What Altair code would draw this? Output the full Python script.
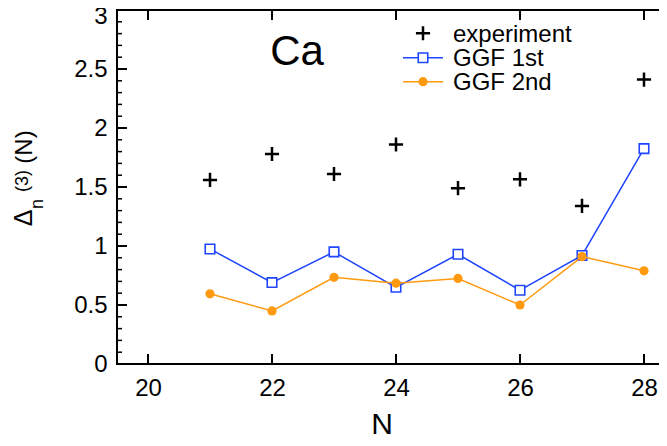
import altair as alt
import pandas as pd

# ---- data ----
N = [21, 22, 23, 24, 25, 26, 27, 28]
experiment = [1.56, 1.78, 1.61, 1.86, 1.49, 1.565, 1.34, 2.41]
ggf_1st = [0.975, 0.69, 0.95, 0.65, 0.93, 0.625, 0.92, 1.825]
ggf_2nd = [0.595, 0.45, 0.735, 0.685, 0.725, 0.50, 0.91, 0.79]

x_ticks = [20, 22, 24, 26, 28]
y_major = [0, 0.5, 1, 1.5, 2, 2.5, 3]
y_minor = [0.1, 0.2, 0.3, 0.4, 0.6, 0.7, 0.8, 0.9, 1.1, 1.2, 1.3, 1.4,
           1.6, 1.7, 1.8, 1.9, 2.1, 2.2, 2.3, 2.4, 2.6, 2.7, 2.8, 2.9]
legend_labels = ["experiment", "GGF 1st", "GGF 2nd"]
element = "Ca"
x_title = "N"
y_title_parts = ["\u0394", "n", "(3)", "(N)"]

# ---- style ----
W, H = 542, 354
FONT = "Liberation Sans"
BLUE = "#1f45ff"
ORANGE = "#ff9a10"
CROSS = "M -1 0 L 1 0 M 0 -1 L 0 1"

df = pd.DataFrame({"N": N, "experiment": experiment, "ggf1": ggf_1st, "ggf2": ggf_2nd})

xs = alt.Scale(domain=[19.5, 28.242], nice=False, zero=False)
ys = alt.Scale(domain=[0, 3], nice=False, zero=False)

x_axis = alt.Axis(values=x_ticks, domain=False, ticks=False, tickSize=0, grid=False,
                  labelFontSize=24, labelFont=FONT, labelColor="black",
                  labelPadding=12, labelFlush=False, title=None)
y_axis = alt.Axis(values=y_major, format="~g", domain=False, ticks=False, tickSize=0,
                  grid=False, labelFontSize=24, labelFont=FONT, labelColor="black",
                  labelPadding=10, labelFlush=False, title=None,
                  labelOffset={"condition": {"test": "datum.value >= 3", "value": 6},
                               "value": 0})


def X(field):
    return alt.X(f"{field}:Q", scale=xs, axis=x_axis)


def Y(field):
    return alt.Y(f"{field}:Q", scale=ys, axis=y_axis)


base = alt.Chart(df)

blue_line = base.mark_line(color=BLUE, strokeWidth=1.5).encode(x=X("N"), y=Y("ggf1"))
blue_pts = base.mark_point(shape="square", filled=True, fill="white", stroke=BLUE,
                           strokeWidth=1.6, size=90, opacity=1).encode(x=X("N"), y=Y("ggf1"))
orange_line = base.mark_line(color=ORANGE, strokeWidth=1.5).encode(x=X("N"), y=Y("ggf2"))
orange_pts = base.mark_circle(color=ORANGE, size=85, opacity=1).encode(x=X("N"), y=Y("ggf2"))
crosses = base.mark_point(shape=CROSS, filled=False, stroke="black", strokeWidth=2.5,
                          size=200, opacity=1).encode(x=X("N"), y=Y("experiment"))

# ---- frame and inward ticks ----
one = pd.DataFrame({"k": [0]})
frame_left = alt.Chart(one).mark_rule(color="black", strokeWidth=2, strokeCap="square").encode(
    x=alt.value(0), y=alt.value(0), y2=alt.value(H))
frame_bottom = alt.Chart(one).mark_rule(color="black", strokeWidth=2, strokeCap="square").encode(
    x=alt.value(0), x2=alt.value(W + 2), y=alt.value(H))
frame_top = alt.Chart(one).mark_rule(color="black", strokeWidth=2, strokeCap="square").encode(
    x=alt.value(0), x2=alt.value(W + 2), y=alt.value(0))

xt = pd.DataFrame({"t": x_ticks})
xticks_bottom = alt.Chart(xt).mark_rule(color="black", strokeWidth=2).encode(
    x=X("t"), y=alt.value(H), y2=alt.value(H - 10))
xticks_top = alt.Chart(xt).mark_rule(color="black", strokeWidth=2).encode(
    x=X("t"), y=alt.value(0), y2=alt.value(10))

ymj = pd.DataFrame({"t": y_major})
ymn = pd.DataFrame({"t": y_minor})
yticks_major = alt.Chart(ymj).mark_rule(color="black", strokeWidth=2).encode(
    y=Y("t"), x=alt.value(0), x2=alt.value(10))
yticks_minor = alt.Chart(ymn).mark_rule(color="black", strokeWidth=1.5).encode(
    y=Y("t"), x=alt.value(0), x2=alt.value(5))

# ---- annotations ----
ca_text = alt.Chart(pd.DataFrame({"label": [element]})).mark_text(
    font=FONT, fontSize=42, align="center", baseline="alphabetic", color="black").encode(
    text="label:N", x=alt.value(180), y=alt.value(55))

xlab = alt.Chart(pd.DataFrame({"label": [x_title]})).mark_text(
    font=FONT, fontSize=30, align="center", baseline="alphabetic", color="black").encode(
    text="label:N", x=alt.value(265), y=alt.value(424))


def ypart(i, x, y, size):
    return alt.Chart(pd.DataFrame({"label": [y_title_parts[i]]})).mark_text(
        font=FONT, fontSize=size, align="center", baseline="middle", angle=270,
        color="black").encode(text="label:N", x=alt.value(x), y=alt.value(y))


ylab = [
    ypart(0, -93, 208, 25),
    ypart(1, -79, 194, 18),
    ypart(2, -94, 171, 18),
    ypart(3, -92, 137, 24),
]

# ---- legend ----
leg_sym_y = [23.3, 47.7, 71.7]
leg_txt_y = [32, 56, 80]
LX_SYM, LX0, LX1, LX_TXT = 306, 286, 326, 336

legend_layers = []
for i, lab in enumerate(legend_labels):
    d = pd.DataFrame({"label": [lab]})
    c = alt.Chart(d)
    if i == 0:
        legend_layers.append(c.mark_point(shape=CROSS, filled=False, stroke="black",
                                          strokeWidth=2.5, size=200, opacity=1).encode(
            x=alt.value(LX_SYM), y=alt.value(leg_sym_y[i])))
    elif i == 1:
        legend_layers.append(c.mark_rule(color=BLUE, strokeWidth=1.5).encode(
            x=alt.value(LX0), x2=alt.value(LX1), y=alt.value(leg_sym_y[i])))
        legend_layers.append(c.mark_point(shape="square", filled=True, fill="white",
                                          stroke=BLUE, strokeWidth=1.6, size=90,
                                          opacity=1).encode(
            x=alt.value(LX_SYM), y=alt.value(leg_sym_y[i])))
    else:
        legend_layers.append(c.mark_rule(color=ORANGE, strokeWidth=1.5).encode(
            x=alt.value(LX0), x2=alt.value(LX1), y=alt.value(leg_sym_y[i])))
        legend_layers.append(c.mark_circle(color=ORANGE, size=85, opacity=1).encode(
            x=alt.value(LX_SYM), y=alt.value(leg_sym_y[i])))
    legend_layers.append(c.mark_text(font=FONT, fontSize=24, align="left",
                                     baseline="alphabetic", color="black").encode(
        text="label:N", x=alt.value(LX_TXT), y=alt.value(leg_txt_y[i])))

chart = alt.layer(
    blue_line, blue_pts, orange_line, orange_pts, crosses,
    frame_left, frame_bottom, frame_top,
    xticks_bottom, xticks_top, yticks_major, yticks_minor,
    ca_text, xlab, *ylab, *legend_layers,
).properties(
    width=W, height=H,
    autosize=alt.AutoSizeParams(type="none"),
    padding={"left": 109, "top": 2, "right": 0, "bottom": 74},
).configure_view(stroke=None).configure(background="white")

chart.save("out.html", embed_options={"renderer": "svg", "actions": False})
